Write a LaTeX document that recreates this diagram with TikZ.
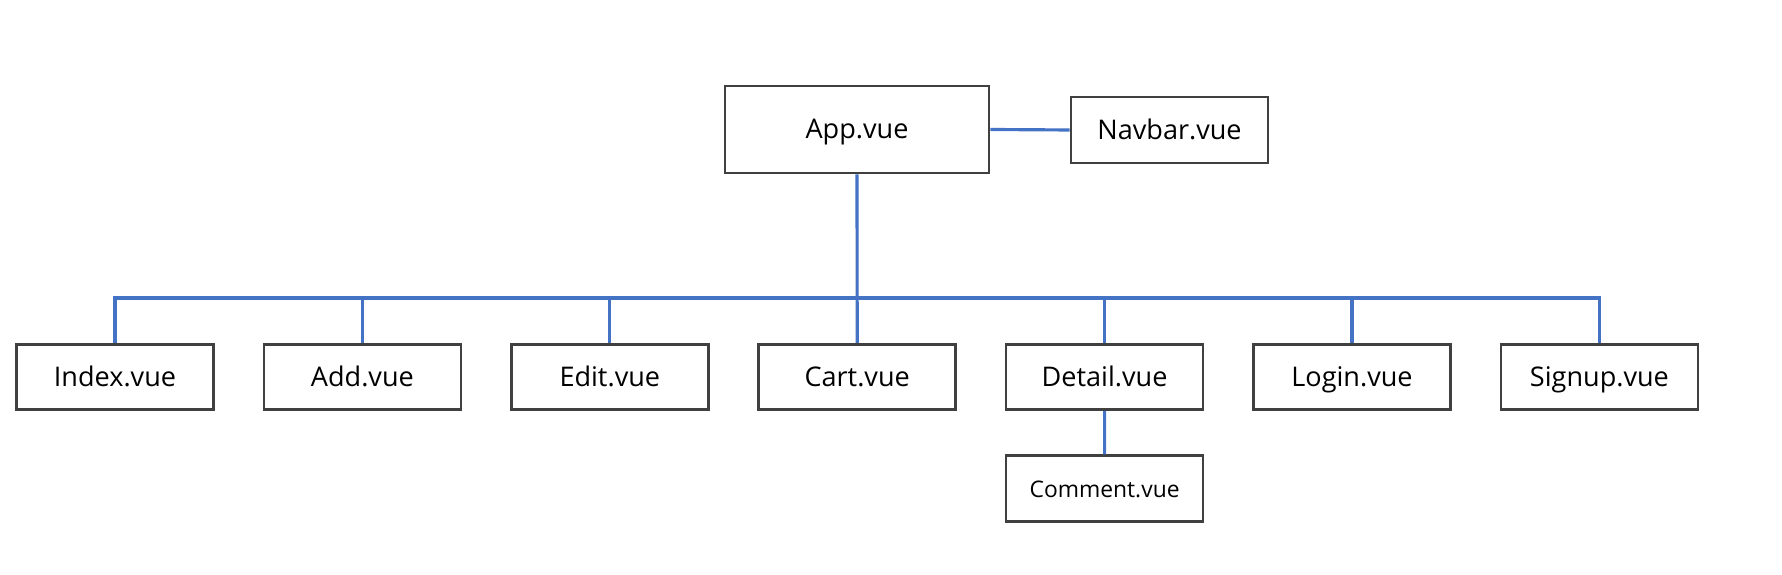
\documentclass[tikz,border=0pt]{standalone}
\usepackage{fontspec}
\setmainfont{Open Sans}
\definecolor{boxgray}{HTML}{404040}
\definecolor{linkblue}{HTML}{4472C4}

\begin{document}
\begin{tikzpicture}[
  vuebox/.style={draw=boxgray, line width=0.75pt, rectangle, inner sep=0pt,
    minimum width=1.97cm, minimum height=0.655cm, text height=1.45ex, text depth=0.45ex,
    font=\fontsize{7.7}{9}\selectfont},
  link/.style={draw=linkblue, line width=0.9pt}]
\useasboundingbox (0,0) rectangle (17.82,5.75);

%root
\node[vuebox, minimum width=2.64cm, minimum height=0.87cm] (app) at (8.57,4.455) {App.vue};
\node[vuebox, minimum height=0.66cm] (navbar) at (11.695,4.45) {Navbar.vue};

%pages
\foreach \name/\txt [count=\i from 0] in {index/Index.vue, add/Add.vue, edit/Edit.vue, cart/Cart.vue, detail/Detail.vue, login/Login.vue, signup/Signup.vue}
{
	\node[vuebox] (\name) at (1.15+2.474*\i,1.98) {\txt};
}
\node[vuebox, font=\fontsize{6.5}{8}\selectfont] (comment) at (11.046,0.865) {Comment.vue};

%links
\draw[link] (app.east) -- (navbar.west);
\draw[link] (app.south) -- (cart.north);
\coordinate (bus) at (8.57,2.77);
\draw[link] (index.north) -- (index.north |- bus) -- (signup.north |- bus) -- (signup.north);
\foreach \name in {add,edit,detail,login}
{
	\draw[link] (\name.north) -- (\name.north |- bus);
}
\draw[link] (detail.south) -- (comment.north);

\end{tikzpicture}
\end{document}
